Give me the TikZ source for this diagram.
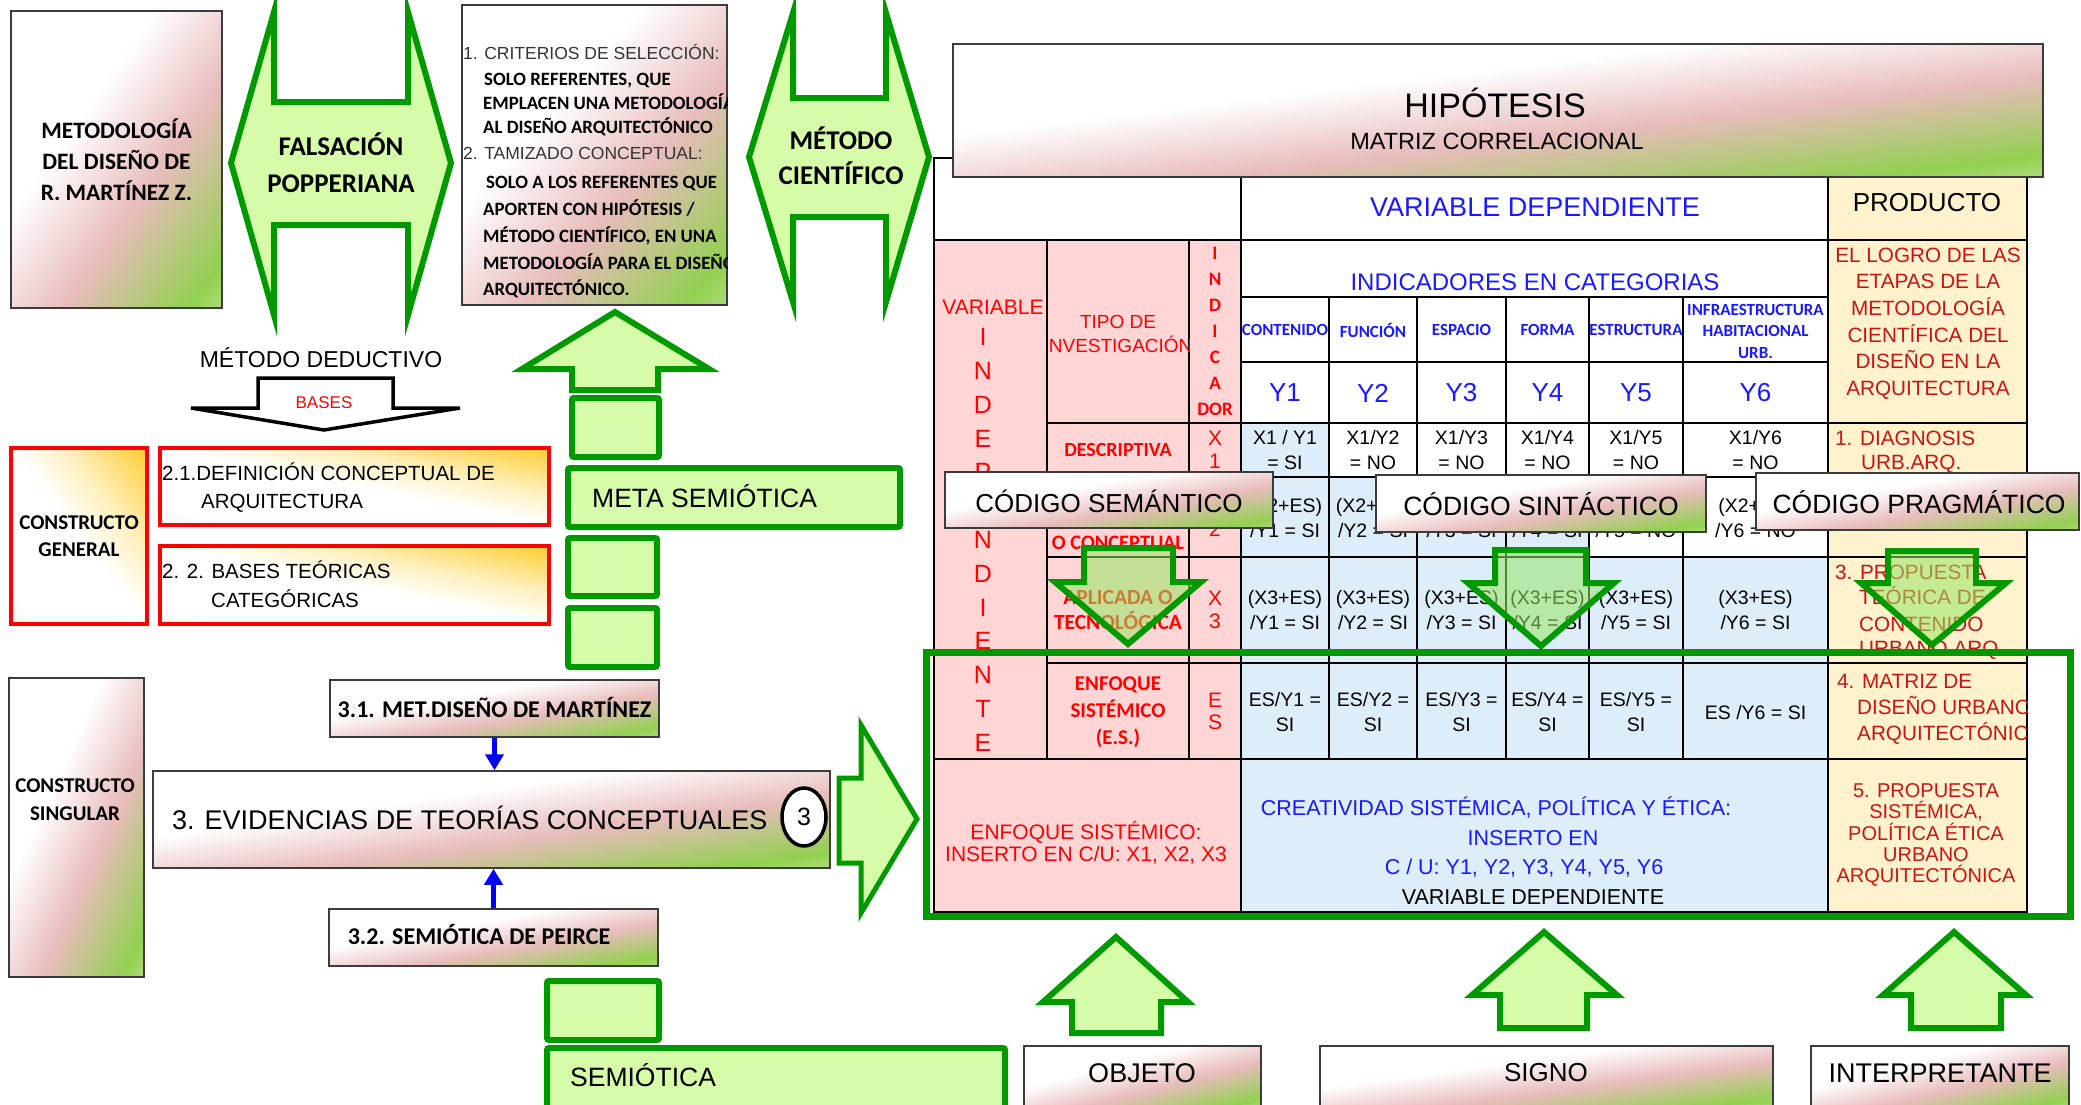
\documentclass[tikz,border=0pt]{standalone}
\usepackage{fontspec}
\setmainfont{Liberation Sans}
\newfontfamily\calibri{Carlito}
\usetikzlibrary{arrows.meta,shapes.geometric}
\newcommand\fz[2]{\fontsize{#1pt}{#2pt}\selectfont}
\definecolor{gstroke}{RGB}{0,153,0}
\definecolor{gfill}{RGB}{214,252,170}
\definecolor{pinkc}{RGB}{232,188,188}
\definecolor{greenc}{RGB}{146,208,80}
\definecolor{creamc}{RGB}{245,252,232}
\definecolor{orangec}{RGB}{255,192,0}
\definecolor{orangel}{RGB}{255,240,190}
\definecolor{greenb}{RGB}{60,170,60}
\definecolor{cellpink}{RGB}{255,213,213}
\definecolor{cellblue}{RGB}{221,237,250}
\definecolor{cellyel}{RGB}{255,242,204}
\definecolor{tblue}{RGB}{25,25,255}
\definecolor{tred}{RGB}{255,0,0}
\definecolor{dred}{RGB}{200,20,20}
\definecolor{boxline}{RGB}{60,60,60}
\definecolor{arrfill}{RGB}{150,230,100}
\pgfdeclarehorizontalshading{gradA}{100bp}{color(0bp)=(white); color(42bp)=(white); color(56bp)=(pinkc); color(71bp)=(greenc); color(86bp)=(creamc); color(100bp)=(creamc)}
\pgfdeclarehorizontalshading{gradB}{100bp}{color(0bp)=(pinkc); color(30bp)=(white); color(50bp)=(white); color(60bp)=(orangel); color(80bp)=(orangec); color(100bp)=(greenb)}
% shaded rectangle, isolines parallel to the box diagonal: shading, dir(1: TL->BR, -1: BL->TR), x1, y1, x2, y2
\newcommand\grect[6]{%
  \pgfmathsetmacro\gra{(#5-#3)/100}%
  \pgfmathsetmacro\grb{-(#2)*(#6-#4)/100}%
  \pgfmathsetmacro\grd{(#2)*(#6-#4)/100}%
  \pgfmathsetmacro\grtx{#3-(#5-#3)/2}%
  \pgfmathsetmacro\grty{#4+(#6-#4)/2}%
  \begin{scope}
    \clip (#3,#4) rectangle (#5,#6);
    \begin{scope}[transform canvas={cm={\gra,\grb,\gra,\grd,(\grtx,\grty)}}]
      \shade[shading=#1] (0,0) rectangle (100,-100);
    \end{scope}
  \end{scope}}
% name, x1, y1, x2, y2, shading, dir, border style
\newcommand\gnode[8]{%
  \grect{#6}{#7}{#2}{#3}{#4}{#5}%
  \node[#8, minimum width={#4-#2}, minimum height={#5-#3}] (#1) at ({(#2+#4)/2},{(#3+#5)/2}) {};}
\begin{document}
\begin{tikzpicture}[x=1pt,y=-1pt,
  gb/.style={draw=boxline, line width=1.5, inner sep=0pt},
  rb/.style={draw=red, line width=4, inner sep=0pt},
  gshape/.style={draw=gstroke, line width=6, fill=gfill, line join=miter},
  gsq/.style={draw=gstroke, line width=6, fill=gfill, rounded corners=2, inner sep=0pt},
  darr/.style={draw=gstroke, line width=6, fill=arrfill, fill opacity=0.55},
  t/.style={inner sep=0pt, outer sep=0pt, align=center},
  tl/.style={inner sep=0pt, anchor=base west},
  barrow/.style={draw=blue, line width=5, -{Triangle[length=16,width=18]}},
  cell/.style={line width=2.2, draw=black},
  bb/.style={font=\calibri\bfseries\fz{#1}{#1}},
  rr/.style={font=\fz{#1}{#1}}
]
\useasboundingbox (0,0) rectangle (2081,1104);
\fill[white] (0,0) rectangle (2081,1104);

% ---------- top left ----------
\gnode{metod}{11}{11}{222}{308}{gradA}{1}{gb}
\node[t, font=\calibri\bfseries\fz{23.5}{31}] (metodt) at (116.5,160) {METODOLOGÍA\\DEL DISEÑO DE\\R. MARTÍNEZ Z.};

\draw[gshape] (231,163) -- (274,12) -- (274,102) -- (408,102) -- (408,12) -- (451,163) -- (408,315) -- (408,225) -- (274,225) -- (274,315) -- cycle;
\node[t, font=\calibri\bfseries\fz{27}{37}] (fals) at (341,163) {FALSACIÓN\\POPPERIANA};

\gnode{crit}{462}{5}{727}{305}{gradA}{1}{gb}
\begin{scope}
\clip (462,5) rectangle (727,305);
\node[tl, rr=17.5, text=black!80] (c1) at (463,59) {1. CRITERIOS DE SELECCIÓN:};
\node[tl, bb=18.8] (c2) at (484,85) {SOLO REFERENTES, QUE};
\node[tl, bb=18.8] (c3) at (483,109) {EMPLACEN UNA METODOLOGÍA};
\node[tl, bb=18.8] (c4) at (483,133) {AL DISEÑO ARQUITECTÓNICO};
\node[tl, rr=17.5, text=black!80] (c5) at (463,159) {2. TAMIZADO CONCEPTUAL:};
\node[tl, bb=18.8] (c6) at (486,188) {SOLO A LOS REFERENTES QUE};
\node[tl, bb=18.8] (c7) at (483,215) {APORTEN CON HIPÓTESIS /};
\node[tl, bb=18.8] (c8) at (483,242) {MÉTODO CIENTÍFICO, EN UNA};
\node[tl, bb=18.8] (c9) at (483,269) {METODOLOGÍA PARA EL DISEÑO};
\node[tl, bb=18.8] (c10) at (483,295) {ARQUITECTÓNICO.};
\end{scope}

\draw[gshape] (749,157) -- (793,13) -- (793,98) -- (886,98) -- (886,13) -- (929,157) -- (886,302) -- (886,217) -- (793,217) -- (793,302) -- cycle;
\node[t, font=\calibri\bfseries\fz{27}{35}] (metc) at (841,156) {MÉTODO\\CIENTÍFICO};

\node[t, rr=23] (mded) at (321,358) {MÉTODO DEDUCTIVO};
\draw[line width=3.5, fill=white, line join=miter] (258,378) -- (393,378) -- (393,408) -- (460,408) -- (324,430) -- (191,408) -- (258,408) -- cycle;
\begin{scope}
\clip (258,380) rectangle (393,407);
\node[t, rr=17, text=tred] (bases) at (324,403) {BASES};
\end{scope}

% ---------- constructo general ----------
\gnode{cg}{11}{448}{147}{624}{gradB}{-1}{rb}
\node[t, font=\calibri\bfseries\fz{21}{27}] (cgt) at (79,536) {CONSTRUCTO\\GENERAL};
\gnode{b21}{160}{448}{549}{525}{gradB}{-1}{rb}
\gnode{b22}{160}{546}{549}{624}{gradB}{-1}{rb}
\node[tl, rr=20.5] (r1) at (162,480) {2.1.DEFINICIÓN CONCEPTUAL DE};
\node[tl, rr=20.5] (r2) at (201,508) {ARQUITECTURA};
\node[tl, rr=20.5] (r3) at (162,578) {2. 2. BASES TEÓRICAS};
\node[tl, rr=20.5] (r4) at (211,607) {CATEGÓRICAS};

% ---------- green column ----------
\draw[gshape] (615,312) -- (709,369) -- (658,369) -- (658,390) -- (572,390) -- (572,369) -- (522,369) -- cycle;
\node[gsq, minimum width=87, minimum height=59] (sq1) at (615.5,427.5) {};
\node[gsq, minimum width=332, minimum height=59] (meta) at (734,497.5) {};
\node[tl, rr=26.5] (metat) at (592,507) {META SEMIÓTICA};
\node[gsq, minimum width=89, minimum height=58] (sq2) at (612.5,567) {};
\node[gsq, minimum width=89, minimum height=59] (sq3) at (612.5,637.5) {};

% ---------- constructo singular ----------
\gnode{cs}{9}{678}{144}{977}{gradA}{1}{gb}
\node[t, font=\calibri\bfseries\fz{21}{28}] (cst) at (75,800) {CONSTRUCTO\\SINGULAR};
\gnode{b31}{330}{680}{659}{737}{gradA}{1}{gb}
\node[t, bb=24] (b31t) at (494.5,707) {3.1. MET.DISEÑO DE MARTÍNEZ};
\gnode{b3}{153}{771}{830}{868}{gradA}{1}{gb}
\node[tl, rr=27] (b3t) at (172,829) {3. EVIDENCIAS DE TEORÍAS CONCEPTUALES};
\node[draw=black, line width=3.5, fill=white, ellipse, minimum width=44, minimum height=58, inner sep=0pt, rr=25] (n3) at (804,817) {3};
\gnode{b32}{329}{909}{658}{966}{gradA}{1}{gb}
\node[t, bb=24] (b32t) at (479,934) {3.2. SEMIÓTICA DE PEIRCE};
\draw[barrow] (b31.south) -- (b31.south |- b3.north);
\draw[barrow] (b32.north) -- (b32.north |- b3.south);
\draw[gshape, line width=5] (839,778) -- (861,778) -- (861,725) -- (917,819) -- (861,913) -- (861,863) -- (839,863) -- cycle;

\node[gsq, minimum width=112, minimum height=59] (sq4) at (603,1010.5) {};
\node[gsq, minimum width=458, minimum height=67] (semi) at (776,1081.5) {};
\node[tl, rr=26.5] (semit) at (570,1086) {SEMIÓTICA};

% ---------- table fills ----------
\fill[white] (934,158) rectangle (1828,240);
\fill[cellyel] (1828,158) rectangle (2027,912);
\fill[cellpink] (934,240) rectangle (1241,912);
\fill[white] (1241,240) rectangle (1828,477);
\fill[cellblue] (1241,423) rectangle (1329,477);
\fill[cellblue] (1241,477) rectangle (1589,557);
\fill[white] (1589,477) rectangle (1828,557);
\fill[cellblue] (1241,557) rectangle (1828,912);

% ---------- table lines ----------
\draw[cell] (934,158) rectangle (2027,912);
\draw[cell] (934,240) -- (2027,240);
\draw[cell] (1241,297) -- (1828,297);
\draw[cell] (1241,362) -- (1828,362);
\foreach \yy in {423,477,557,663} \draw[cell] (1047,\yy) -- (2027,\yy);
\draw[cell] (934,759) -- (2027,759);
\draw[cell] (1047,240) -- (1047,759);
\draw[cell] (1189,240) -- (1189,759);
\draw[cell] (1241,158) -- (1241,912);
\draw[cell] (1828,158) -- (1828,912);
\foreach \xx in {1329,1417,1506,1589,1683} \draw[cell] (\xx,297) -- (\xx,759);

% ---------- table texts ----------
\node[t, rr=27, text=tblue] (vd) at (1535,207) {VARIABLE DEPENDIENTE};
\node[t, rr=26] (prod) at (1927,203) {PRODUCTO};
\node[t, rr=24, text=tblue] (indc) at (1535,282) {INDICADORES EN CATEGORIAS};
\node[t, bb=17, text=tblue] (k1) at (1285,330) {CONTENIDO};
\node[t, bb=17, text=tblue] (k2) at (1373,330) {FUNCIÓN};
\node[t, bb=17, text=tblue] (k3) at (1461.5,330) {ESPACIO};
\node[t, bb=17, text=tblue] (k4) at (1547.5,330) {FORMA};
\node[t, bb=17, text=tblue] (k5) at (1636,330) {ESTRUCTURA};
\node[t, font=\calibri\bfseries\fz{17}{21.5}, text=tblue] (k6) at (1755.5,331) {INFRAESTRUCTURA\\HABITACIONAL\\URB.};
\node[t, rr=26, text=tblue] (y1) at (1285,393) {Y1};
\node[t, rr=26, text=tblue] (y2) at (1373,393) {Y2};
\node[t, rr=26, text=tblue] (y3) at (1461.5,393) {Y3};
\node[t, rr=26, text=tblue] (y4) at (1547.5,393) {Y4};
\node[t, rr=26, text=tblue] (y5) at (1636,393) {Y5};
\node[t, rr=26, text=tblue] (y6) at (1755.5,393) {Y6};

\begin{scope}
\clip (934,240) rectangle (1047,759);
\node[t, rr=21, text=tred] (vari) at (993,307) {VARIABLE};
\foreach \L [count=\i from 0] in {I,N,D,E,P,E,N,D,I,E,N,T,E}
  \node[t, rr=25, text=tred] (vi\i) at (983,{337+33.8*\i}) {\L};
\end{scope}
\begin{scope}
\clip (1047,240) rectangle (1189,759);
\node[t, font=\fz{19}{24}, text=tred] (tipo) at (1118,334) {TIPO DE\\INVESTIGACIÓN};
\node[t, bb=20, text=tred] (desc) at (1118,450) {DESCRIPTIVA};
\node[t, bb=20.5, text=tred] (conc) at (1118,543) {O CONCEPTUAL};
\node[t, font=\calibri\bfseries\fz{21.5}{25}, text=tred] (apli) at (1118,610) {APLICADA O\\TECNOLÓGICA};
\node[t, font=\calibri\bfseries\fz{21}{27}, text=tred] (enf) at (1118,712) {ENFOQUE\\SISTÉMICO\\(E.S.)};
\end{scope}
\node[t, font=\calibri\bfseries\fz{19}{26}, text=tred] (indr) at (1215,331) {I\\N\\D\\I\\C\\A\\DOR};
\node[t, font=\fz{21}{23}, text=tred] (x1) at (1215,450) {X\\1};
\node[t, font=\fz{21}{23}, text=tred] (x2) at (1215,518) {X\\2};
\node[t, font=\fz{21}{23}, text=tred] (x3) at (1215,610) {X\\3};
\node[t, font=\fz{21}{22}, text=tred] (xes) at (1215,711) {E\\S};

\tikzset{cl/.style={t, font=\fz{19.5}{24.5}}}
\node[cl] (a11) at (1285,450) {X1 / Y1\\= SI};
\node[cl] (a12) at (1373,450) {X1/Y2\\= NO};
\node[cl] (a13) at (1461.5,450) {X1/Y3\\= NO};
\node[cl] (a14) at (1547.5,450) {X1/Y4\\= NO};
\node[cl] (a15) at (1636,450) {X1/Y5\\= NO};
\node[cl] (a16) at (1755.5,450) {X1/Y6\\= NO};
\node[cl] (a21) at (1285,518) {(X2+ES)\\/Y1 = SI};
\node[cl] (a22) at (1373,518) {(X2+ES)\\/Y2 = SI};
\node[cl] (a23) at (1461.5,518) {(X2+ES)\\/Y3 = SI};
\node[cl] (a24) at (1547.5,518) {(X2+ES)\\/Y4 = SI};
\node[cl] (a25) at (1636,518) {(X2+ES)\\/Y5 = NO};
\node[cl] (a26) at (1755.5,518) {(X2+ES)\\/Y6 = NO};
\node[cl] (a31) at (1285,610) {(X3+ES)\\/Y1 = SI};
\node[cl] (a32) at (1373,610) {(X3+ES)\\/Y2 = SI};
\node[cl] (a33) at (1461.5,610) {(X3+ES)\\/Y3 = SI};
\node[cl] (a34) at (1547.5,610) {(X3+ES)\\/Y4 = SI};
\node[cl] (a35) at (1636,610) {(X3+ES)\\/Y5 = SI};
\node[cl] (a36) at (1755.5,610) {(X3+ES)\\/Y6 = SI};
\node[cl] (a41) at (1285,712) {ES/Y1 =\\SI};
\node[cl] (a42) at (1373,712) {ES/Y2 =\\SI};
\node[cl] (a43) at (1461.5,712) {ES/Y3 =\\SI};
\node[cl] (a44) at (1547.5,712) {ES/Y4 =\\SI};
\node[cl] (a45) at (1636,712) {ES/Y5 =\\SI};
\node[cl] (a46) at (1755.5,713) {ES /Y6 = SI};

\node[t, font=\fz{21}{22}, text=tred] (lastl) at (1086,843) {ENFOQUE SISTÉMICO:\\INSERTO EN C/U: X1, X2, X3};
\node[t, rr=21.5, text=tblue] (lm1) at (1496,808) {CREATIVIDAD SISTÉMICA, POLÍTICA Y ÉTICA:};
\node[t, rr=21.5, text=tblue] (lm2) at (1533,838) {INSERTO EN};
\node[t, rr=21.5, text=tblue] (lm3) at (1524,868) {C / U: Y1, Y2, Y3, Y4, Y5, Y6};
\node[t, rr=21.5] (lm4) at (1533,897) {VARIABLE DEPENDIENTE};

\node[t, font=\fz{20.7}{26.6}, text=dred] (p0) at (1928,323.5) {EL LOGRO DE LAS\\ETAPAS DE LA\\METODOLOGÍA\\CIENTÍFICA DEL\\DISEÑO EN LA\\ARQUITECTURA};
\node[tl, rr=20.7, text=dred] (p1a) at (1835,445) {1. DIAGNOSIS};
\node[tl, rr=20.7, text=dred] (p1b) at (1861,469) {URB.ARQ.};
\begin{scope}
\clip (1828,557) rectangle (2027,663);
\node[tl, rr=20.7, text=dred] (p3a) at (1835,579) {3. PROPUESTA};
\node[tl, rr=20.7, text=dred] (p3b) at (1859,604) {TEÓRICA DE};
\node[tl, rr=20.7, text=dred] (p3c) at (1859,631) {CONTENIDO};
\node[tl, rr=20.7, text=dred] (p3d) at (1859,655) {URBANO ARQ.};
\end{scope}
\begin{scope}
\clip (1828,663) rectangle (2027,759);
\node[tl, rr=20.7, text=dred] (p4a) at (1837,688) {4. MATRIZ DE};
\node[tl, rr=20.7, text=dred] (p4b) at (1857,714) {DISEÑO URBANO};
\node[tl, rr=20.7, text=dred] (p4c) at (1857,740) {ARQUITECTÓNICO};
\end{scope}
\node[t, font=\fz{20}{21.3}, text=dred] (p5) at (1926,835) {5. PROPUESTA\\SISTÉMICA,\\POLÍTICA ÉTICA\\URBANO\\ARQUITECTÓNICA};

% ---------- hipotesis ----------
\gnode{hip}{953}{44}{2043}{177}{gradA}{1}{gb}
\node[t, rr=34] (hipt) at (1495,103) {HIPÓTESIS};
\node[t, rr=23.5] (matr) at (1497,141) {MATRIZ CORRELACIONAL};

% ---------- green frame ----------
\draw[draw=gstroke, line width=7] (926,652) rectangle (2070,916);

% ---------- codes ----------
\gnode{csem}{945}{472}{1273}{528}{gradA}{1}{gb}
\node[t, rr=26] (csemt) at (1109,501) {CÓDIGO SEMÁNTICO};
\gnode{csin}{1376}{475}{1706}{532}{gradA}{1}{gb}
\node[t, rr=26.5] (csint) at (1541,504) {CÓDIGO SINTÁCTICO};
\gnode{cpra}{1756}{473}{2079}{530}{gradA}{1}{gb}
\node[t, rr=26.5] (cprat) at (1919,502) {CÓDIGO PRAGMÁTICO};

\draw[darr] (1084,548) -- (1173,548) -- (1173,582) -- (1201,582) -- (1128,644) -- (1055,582) -- (1084,582) -- cycle;
\draw[darr] (1495,550) -- (1586,550) -- (1586,583) -- (1614,583) -- (1541,646) -- (1468,583) -- (1495,583) -- cycle;
\draw[darr] (1888,551) -- (1976,551) -- (1976,583) -- (2006,583) -- (1932,645) -- (1861,583) -- (1888,583) -- cycle;

% ---------- bottom ----------
\draw[gshape] (1116,937) -- (1188,1002) -- (1161,1002) -- (1161,1033) -- (1072,1033) -- (1072,1002) -- (1043,1002) -- cycle;
\draw[gshape] (1544,932) -- (1617,995) -- (1587,995) -- (1587,1028) -- (1500,1028) -- (1500,995) -- (1472,995) -- cycle;
\draw[gshape] (1954,932) -- (2026,995) -- (2001,995) -- (2001,1028) -- (1911,1028) -- (1911,995) -- (1883,995) -- cycle;
\gnode{obj}{1024}{1046}{1261}{1108}{gradA}{1}{gb}
\node[t, rr=27] (objt) at (1142,1073) {OBJETO};
\gnode{sig}{1320}{1046}{1773}{1108}{gradA}{1}{gb}
\node[t, rr=26] (sigt) at (1546,1073) {SIGNO};
\gnode{int}{1811}{1046}{2069}{1108}{gradA}{1}{gb}
\node[t, rr=27] (intt) at (1940,1073) {INTERPRETANTE};
\end{tikzpicture}
\end{document}
